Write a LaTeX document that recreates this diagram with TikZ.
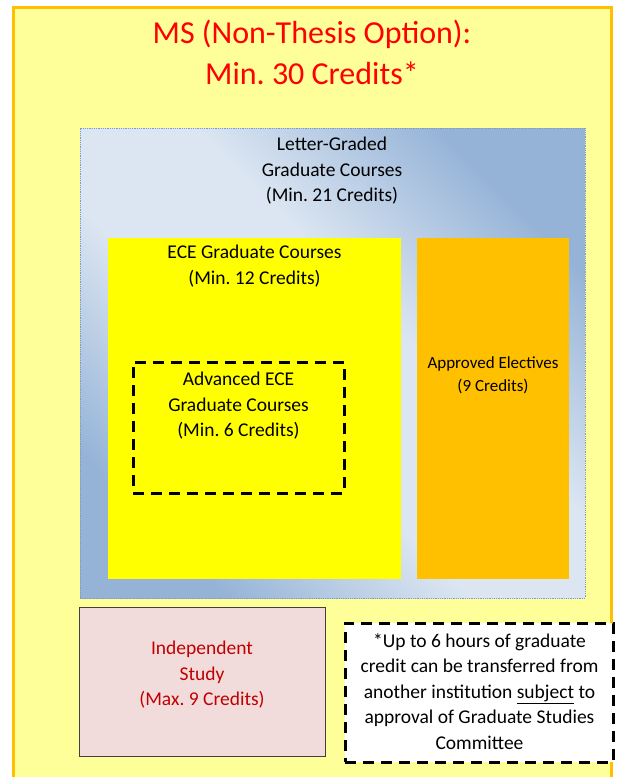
\documentclass[tikz,border=0pt]{standalone}
\usepackage{fontspec}
\setmainfont{Carlito}
\frenchspacing
\definecolor{frameorange}{HTML}{FFC000}
\definecolor{framefill}{HTML}{FFFF99}
\definecolor{titlered}{HTML}{FF0000}
\definecolor{bluelight}{HTML}{DCE6F2}
\definecolor{bluedark}{HTML}{95B3D7}
\definecolor{blueedge}{HTML}{7F9DC4}
\definecolor{ecefill}{HTML}{FFFF00}
\definecolor{electfill}{HTML}{FFC000}
\definecolor{pinkfill}{HTML}{F2DCDB}
\definecolor{pinkedge}{HTML}{404040}
\definecolor{pinktext}{HTML}{C00000}
% dark - light band - dark
\pgfdeclareverticalshading{bluediag}{100bp}{color(0bp)=(bluedark); color(25bp)=(bluedark);
  color(43bp)=(bluelight); color(57bp)=(bluelight); color(75bp)=(bluedark); color(100bp)=(bluedark)}
\begin{document}
\begin{tikzpicture}[x=1pt,y=-1pt,
  region/.style={rectangle, inner sep=0pt, outer sep=0pt},
  label/.style={align=center, inner sep=0pt, font=\fontsize{19.5}{25.5}\selectfont},
  dashbox/.style={draw=black, line width=3pt, dash pattern=on 11pt off 7pt},
]
\useasboundingbox (0,0) rectangle (618,777);
\fill[white] (0,0) rectangle (618,777);

% outer frame (runs past the lower edge)
\node[region, draw=frameorange, line width=3pt, fill=framefill,
      minimum width=598pt, minimum height=800pt] (frame) at (312.5,407.5) {};

% title
\node[label, text=titlered, font=\fontsize{32}{41}\selectfont] (title) at (312,52.5)
  {MS (Non-Thesis Option):\\Min. 30 Credits*};

% letter-graded courses: diagonal gradient, dark at two opposite corners
\node[region, shade, shading=bluediag, shading angle=-45, draw=blueedge, densely dotted,
      line width=0.8pt, minimum width=505pt, minimum height=470pt] (letter) at (332.5,363) {};
\node[label] (letterlbl) at (332,171) {Letter-Graded\\Graduate Courses\\(Min. 21 Credits)};

% ECE graduate courses
\node[region, fill=ecefill, minimum width=293pt, minimum height=341pt] (ece) at (254.5,408.5) {};
\node[label] (ecelbl) at (254.5,266) {ECE Graduate Courses\\(Min. 12 Credits)};

% advanced ECE courses
\node[region, dashbox, minimum width=211pt, minimum height=131pt] (adv) at (238.5,427.5) {};
\node[label] (advlbl) at (238.5,406) {Advanced ECE\\Graduate Courses\\(Min. 6 Credits)};

% approved electives
\node[region, fill=electfill, minimum width=152pt, minimum height=341pt] (elect) at (493,408.5) {};
\node[label, font=\fontsize{17}{23}\selectfont] (electlbl) at (493,375.5) {Approved Electives\\(9 Credits)};

% independent study
\node[region, fill=pinkfill, draw=pinkedge, line width=1pt,
      minimum width=246pt, minimum height=149pt] (indep) at (202,681.5) {};
\node[label, text=pinktext] (indeplbl) at (202,675) {Independent\\Study\\(Max. 9 Credits)};

% transfer note
\node[region, dashbox, fill=white, minimum width=268pt, minimum height=139pt] (note) at (479,692.5) {};
\node[label] (notelbl) at (479.5,691.5)
  {*Up to 6 hours of graduate\\credit can be transferred from\\another institution \underline{subject} to\\approval of Graduate Studies\\Committee};
\end{tikzpicture}
\end{document}
